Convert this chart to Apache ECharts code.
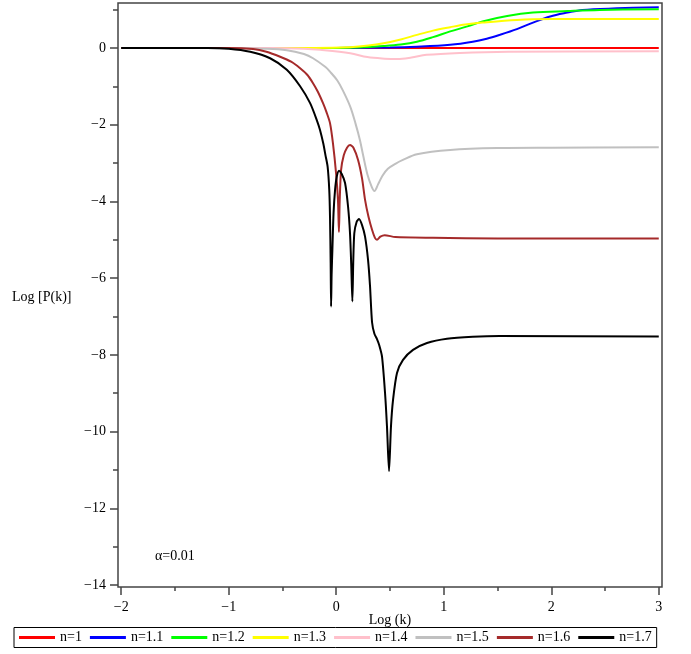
<!DOCTYPE html>
<html>
<head>
<meta charset="utf-8">
<script src="https://cdn.jsdelivr.net/npm/echarts@6/dist/echarts.min.js"></script>
<style>
html,body{margin:0;padding:0;background:#fff;}
#chart{width:691px;height:654px;}
</style>
</head>
<body>
<div id="chart"></div>
<script>
// ---- data (x = Log k, y = Log P(k)) ----
const seriesNames = ['n=1','n=1.1','n=1.2','n=1.3','n=1.4','n=1.5','n=1.6','n=1.7'];
const seriesColors = ['#ff0000','#0000ff','#00ff00','#ffff00','#ffc0cb','#c0c0c0','#a52a2a','#000000'];

const n10 = [[-2,0],[3,0]];
const n11 = [[-2,0],[0,0],[0.5,0.01],[0.75,0.03],[1.06,0.08],[1.27,0.16],[1.4,0.24],[1.52,0.34],[1.68,0.49],[1.83,0.66],[1.99,0.82],[2.15,0.92],[2.29,0.99],[2.61,1.03],[3,1.06]];
const n12 = [[-2,0],[0,0],[0.2,0.01],[0.44,0.05],[0.6,0.09],[0.75,0.16],[0.9,0.28],[1.06,0.43],[1.22,0.56],[1.36,0.69],[1.59,0.83],[1.83,0.92],[2.15,0.96],[2.45,0.99],[3,1.01]];
const n13 = [[-2,0],[-0.2,0],[0.13,0.02],[0.3,0.06],[0.44,0.12],[0.6,0.22],[0.75,0.34],[0.9,0.45],[1.06,0.54],[1.2,0.61],[1.36,0.66],[1.68,0.73],[2,0.75],[3,0.75]];
const n14 = [[-2,0],[-0.6,0],[-0.3,-0.02],[-0.15,-0.05],[0.13,-0.14],[0.29,-0.24],[0.45,-0.28],[0.57,-0.29],[0.7,-0.25],[0.84,-0.18],[1.15,-0.13],[1.6,-0.1],[3,-0.09]];
const n15 = [[-2,0],[-1.2,0],[-0.9,-0.01],[-0.7,-0.02],[-0.46,-0.06],[-0.3,-0.16],[-0.216,-0.27],[-0.1,-0.5],[-0.058,-0.62],[0.01,-0.85],[0.06,-1.1],[0.13,-1.53],[0.18,-1.98],[0.22,-2.4],[0.25,-2.8],[0.29,-3.3],[0.33,-3.62],[0.355,-3.73],[0.39,-3.55],[0.43,-3.33],[0.48,-3.15],[0.55,-3.02],[0.62,-2.92],[0.75,-2.77],[1.06,-2.66],[1.52,-2.61],[2,-2.6],[3,-2.59]];
const n16 = [[-2,0],[-1.0,0],[-0.773,-0.03],[-0.65,-0.1],[-0.522,-0.23],[-0.42,-0.36],[-0.336,-0.53],[-0.27,-0.7],[-0.216,-0.92],[-0.17,-1.15],[-0.123,-1.44],[-0.09,-1.68],[-0.058,-1.96],[-0.03,-2.5],[-0.002,-3.26],[0.016,-3.96],[0.025,-4.8],[0.032,-4.0],[0.045,-3.18],[0.07,-2.8],[0.1,-2.6],[0.128,-2.53],[0.16,-2.6],[0.203,-2.92],[0.24,-3.4],[0.268,-3.96],[0.3,-4.4],[0.333,-4.74],[0.36,-4.95],[0.379,-5.0],[0.41,-4.92],[0.45,-4.88],[0.55,-4.93],[0.9,-4.95],[1.5,-4.97],[3,-4.97]];
const n17 = [[-2,0],[-1.2,0],[-1.0,-0.02],[-0.8,-0.1],[-0.615,-0.27],[-0.46,-0.57],[-0.336,-1.0],[-0.243,-1.44],[-0.181,-1.88],[-0.151,-2.14],[-0.12,-2.5],[-0.1,-2.8],[-0.08,-3.1],[-0.065,-3.7],[-0.058,-4.4],[-0.052,-5.6],[-0.048,-6.74],[-0.043,-5.9],[-0.036,-5.27],[-0.025,-4.3],[-0.011,-3.7],[0.005,-3.35],[0.026,-3.2],[0.05,-3.28],[0.082,-3.52],[0.11,-4.14],[0.128,-4.83],[0.14,-5.7],[0.15,-6.61],[0.158,-5.6],[0.168,-4.83],[0.19,-4.53],[0.212,-4.46],[0.24,-4.62],[0.268,-4.92],[0.296,-5.53],[0.314,-6.2],[0.333,-7.15],[0.355,-7.45],[0.379,-7.59],[0.4,-7.75],[0.426,-8.05],[0.454,-9.0],[0.472,-9.87],[0.491,-11.03],[0.509,-9.87],[0.528,-9.18],[0.565,-8.47],[0.621,-8.13],[0.714,-7.87],[0.844,-7.69],[1.03,-7.58],[1.27,-7.53],[1.52,-7.51],[3,-7.52]];
const seriesData = [n10,n11,n12,n13,n14,n15,n16,n17];

const xMajorTicks = [-2,-1,0,1,2,3];
const xMinorTicks = [-1.5,-0.5,0.5,1.5,2.5];
const yMajorTicks = [-14,-12,-10,-8,-6,-4,-2,0];
const yMinorTicks = [-13,-11,-9,-7,-5,-3,-1,1];

const xTitle = 'Log (k)';
const yTitle = 'Log [P(k)]';
const note = 'α=0.01';

// ---- chart ----
const FONT = "'Liberation Serif','Times New Roman',serif";
const AX = '#444';
const fmt = v => (v < 0 ? '\u2212' : '') + Math.abs(v);
const xRange = {min: -2.03, max: 3.03};
const yRange = {min: -14.05, max: 1.17};

const chart = echarts.init(document.getElementById('chart'), null, {renderer: 'canvas'});
chart.setOption({
  animation: false,
  backgroundColor: '#fff',
  grid: {left: 118, right: 29, top: 3, bottom: 67, show: true, borderColor: AX, borderWidth: 1.5, backgroundColor: 'transparent'},
  xAxis: [
    {type: 'value', min: xRange.min, max: xRange.max, position: 'bottom',
     axisLine: {show: false, onZero: false}, splitLine: {show: false},
     axisTick: {show: true, length: 8, lineStyle: {color: AX, width: 1.5}, customValues: xMajorTicks},
     axisLabel: {customValues: xMajorTicks, formatter: fmt, color: '#000', fontFamily: FONT, fontSize: 14, margin: 13}},
    {type: 'value', min: xRange.min, max: xRange.max, position: 'bottom',
     axisLine: {show: false, onZero: false}, splitLine: {show: false},
     axisTick: {show: true, length: 4, lineStyle: {color: AX, width: 1.5}, customValues: xMinorTicks},
     axisLabel: {show: false}}
  ],
  yAxis: [
    {type: 'value', min: yRange.min, max: yRange.max, position: 'left',
     axisLine: {show: false, onZero: false}, splitLine: {show: false},
     axisTick: {show: true, length: 8, lineStyle: {color: AX, width: 1.5}, customValues: yMajorTicks},
     axisLabel: {customValues: yMajorTicks, formatter: fmt, color: '#000', fontFamily: FONT, fontSize: 14, margin: 12}},
    {type: 'value', min: yRange.min, max: yRange.max, position: 'left', offset: 0,
     axisLine: {show: false, onZero: false}, splitLine: {show: false},
     axisTick: {show: true, length: 5, lineStyle: {color: AX, width: 1.5}, customValues: yMinorTicks},
     axisLabel: {show: false}}
  ],
  legend: {
    left: 14, top: 627.5, orient: 'horizontal',
    borderColor: '#000', borderWidth: 1, padding: [3, 5],
    itemWidth: 36, itemHeight: 3, itemGap: 8, icon: 'rect',
    textStyle: {color: '#000', fontFamily: FONT, fontSize: 14},
    data: seriesNames
  },
  graphic: [
    {type: 'text', left: 12, top: 290, style: {text: yTitle, fill: '#000', font: "14px " + FONT}},
    {type: 'text', x: 390, y: 620, style: {text: xTitle, fill: '#000', font: "14px " + FONT, align: 'center', verticalAlign: 'middle'}},
    {type: 'text', left: 155, top: 549, style: {text: note, fill: '#000', font: "14px " + FONT}}
  ],
  series: seriesNames.map((name, i) => ({
    name: name, type: 'line', xAxisIndex: 0, yAxisIndex: 0,
    data: seriesData[i], showSymbol: false, symbol: 'none',
    smooth: (i >= 6) ? 0.25 : 0.35,
    lineStyle: {color: seriesColors[i], width: 2},
    itemStyle: {color: seriesColors[i]},
    z: 2 + i
  }))
});
</script>
</body>
</html>
